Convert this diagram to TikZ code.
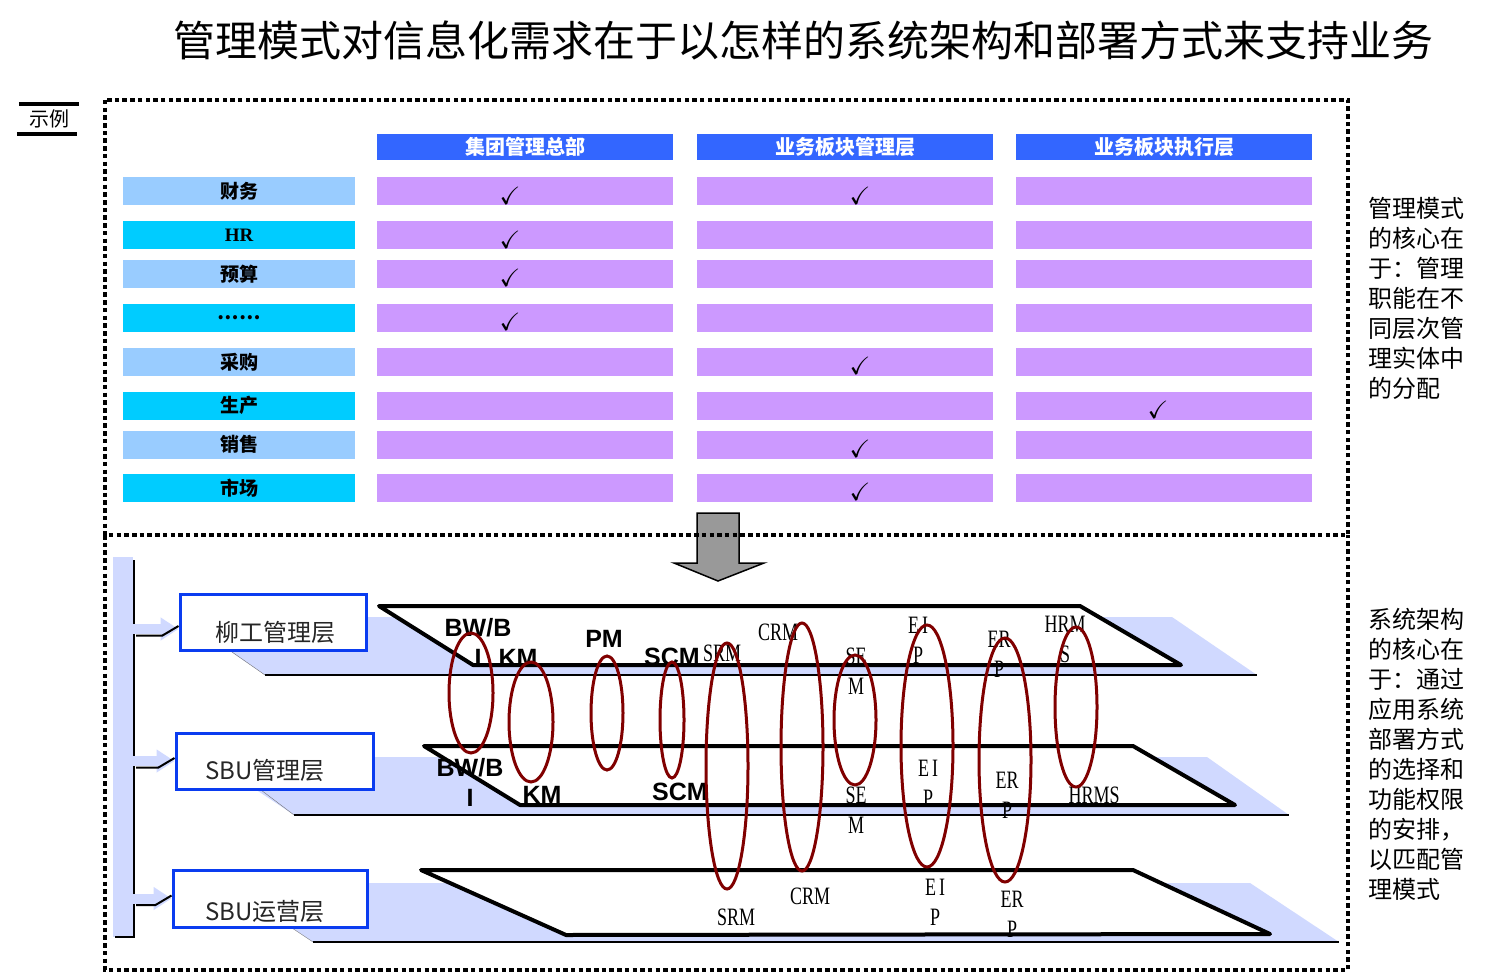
\documentclass[tikz,border=0pt]{standalone}
\usepackage{amssymb}
\usepackage{fontspec}
\setmainfont{Noto Sans CJK SC}
\newfontfamily\latinsans{Liberation Sans}
\newfontfamily\latinserif{Liberation Serif}
\newfontfamily\narrowserif[FakeStretch=0.72]{Liberation Serif}
\usetikzlibrary{calc, arrows.meta, positioning}
\definecolor{headblue}{HTML}{3366FF}
\definecolor{cellviolet}{HTML}{CC99FF}
\definecolor{rowsky}{HTML}{99CCFF}
\definecolor{rowcyan}{HTML}{00CCFF}
\definecolor{layershade}{HTML}{D0D9FF}
\definecolor{boxblue}{HTML}{0A3CF0}
\definecolor{ringred}{HTML}{800000}
\definecolor{arrowgray}{HTML}{999999}

\tikzset{
  dotframe/.style={line width=4.5pt, dash pattern=on 4.5pt off 3.2pt},
  headcell/.style={fill=headblue, text=white, minimum width=296pt, minimum height=26pt, inner sep=0pt,
    font=\fontsize{20}{22}\selectfont\bfseries},
  rowcell/.style={minimum width=232pt, minimum height=28pt, inner sep=0pt, font=\fontsize{19}{21}\selectfont\bfseries},
  gridcell/.style={fill=cellviolet, minimum width=296pt, minimum height=28pt, inner sep=0pt},
  checkmk/.style={inner sep=0pt, font=\fontsize{25}{25}\selectfont},
  layerbox/.style={draw=boxblue, line width=3pt, fill=white, inner sep=0pt},
  layertext/.style={inner sep=0pt, text=black!85, font=\fontsize{24}{26}\selectfont},
  plane/.style={draw=black, line width=4pt, fill=white, line join=round},
  layershadow/.style={fill=layershade},
  feed/.style={draw=layershade, line width=10pt, -{Triangle[length=18pt, width=22pt]}},
  feedshadow/.style={draw=black, line width=2pt},
  sysbold/.style={inner sep=0pt, align=center, font=\latinsans\bfseries\fontsize{25}{30}\selectfont},
  systhin/.style={inner sep=0pt, align=center, font=\narrowserif\fontsize{25}{30}\selectfont},
  ring/.style={draw=ringred, line width=3pt},
  note/.style={inner sep=0pt, align=left, font=\fontsize{24}{30}\selectfont},
}

\begin{document}
\begin{tikzpicture}[x=1pt, y=-1pt]
  \useasboundingbox (0,0) rectangle (1487,973);
  % title and tag
  \node[font=\fontsize{42}{46}\selectfont] (title) at (803,40) {管理模式对信息化需求在于以怎样的系统架构和部署方式来支持业务};
  \node[inner sep=0pt, minimum width=60pt, minimum height=29pt, font=\fontsize{20}{22}\selectfont] (sample) at (49,119) {示例};
  \draw[line width=4pt] (sample.north west) -- (sample.north east);
  \draw[line width=4pt] ([xshift=-2pt]sample.south west) -- ([xshift=-2pt]sample.south east);

  % table headers
  \node[headcell] (hq) at (525,147) {集团管理总部};
  \node[headcell] (seg) at (845,147) {业务板块管理层};
  \node[headcell] (exe) at (1164,147) {业务板块执行层};

  % table rows
  \foreach \yc/\lab/\col [count=\i] in {191.5/财务/rowsky, 235.5/{\latinserif\bfseries HR}/rowcyan,
      274/预算/rowsky, 318/{\raisebox{-4pt}{……}}/rowcyan, 362/采购/rowsky, 405.5/生产/rowcyan,
      444.5/销售/rowsky, 488/市场/rowcyan} {
    \node[rowcell, fill=\col] (r\i) at (239,\yc) {\lab};
    \node[gridcell] (c\i a) at (525,\yc) {};
    \node[gridcell] (c\i b) at (845,\yc) {};
    \node[gridcell] (c\i c) at (1164,\yc) {};
  }
  \foreach \cx/\cy [count=\k] in {510/196, 510/240, 510/278, 510/322, 860/196,
      860/366, 860/449, 860/492, 1158/410}
    \node[checkmk] (ck\k) at (\cx,\cy) {$\checkmark$};

  % arrow between the two parts
  \draw[fill=arrowgray, line width=1.5pt] (697,513) -- (739,513) -- (739,563) -- (764,563)
      -- (718,581) -- (674,563) -- (697,563) -- cycle;

  % frames
  \draw[dotframe] (105,100) rectangle (1348,535);
  \draw[dotframe] (105,535) -- (105,970) -- (1348,970) -- (1348,535);

  % layer 1
  \fill[layershadow] (180,617) -- (1172,617) -- (1257,675) -- (265,675) -- cycle;
  \draw[black!55] (232,652) -- (265,675);
  \draw[line width=2pt] (265,675) -- (1257,675);
  \draw[plane] (379,606) -- (1080,606) -- (1181,665) -- (473,665) -- cycle;
  % layer 2
  \fill[layershadow] (207,757) -- (1207,757) -- (1289,815) -- (294,815) -- cycle;
  \draw[black!55] (261,790) -- (294,815);
  \draw[line width=2pt] (294,815) -- (1289,815);
  \draw[plane] (424,746) -- (1133,746) -- (1235,805) -- (520,805) -- cycle;
  % layer 3
  \fill[layershadow] (225,883) -- (1250,883) -- (1339,942) -- (313,942) -- cycle;
  \draw[black!55] (292,928) -- (313,942);
  \draw[line width=2pt] (313,942) -- (1339,942);
  \draw[plane] (421,870) -- (1133,870) -- (1270,934) -- (566,935) -- cycle;

  % left spine and level boxes
  \node[layershadow, inner sep=0pt, minimum width=20pt, minimum height=380pt] (spine) at (123,747) {};
  \draw[line width=2pt] (134,560) -- (134,937) -- (115,937);
  \node[layerbox, minimum width=186pt, minimum height=56pt] (mgmt) at (273,622) {};
  \node[layertext] (mgmtlab) at (275,632) {柳工管理层};
  \node[layerbox, minimum width=197pt, minimum height=56pt] (sbumgmt) at (274.5,761) {};
  \node[layertext] (sbumgmtlab) at (265,770) {SBU管理层};
  \node[layerbox, minimum width=194pt, minimum height=57pt] (sbuops) at (270,898.5) {};
  \node[layertext] (sbuopslab) at (265,911) {SBU运营层};
  \foreach \bx/\dy in {mgmt/7, sbumgmt/0, sbuops/0} {
    \coordinate (tip) at ($(\bx.west)+(0,\dy)$);
    \draw[feed] (spine.east |- tip) -- (tip);
    \draw[feedshadow] ($(spine.east |- tip)+(3,6.5)$) -- ($(tip)+(-16,6.5)$) -- ($(tip)+(0,-3)$);
  }

  % system labels
  \foreach \lx/\ly/\txt [count=\k] in {478/642/{BW/B\\I}, 518/658/KM, 604/639/PM, 672/657/SCM,
      470/782/{BW/B\\I}, 542/795/KM, 680/792/SCM}
    \node[sysbold] (sb\k) at (\lx,\ly) {\txt};
  \foreach \lx/\ly/\txt [count=\k] in {722/653/SRM, 778/632/CRM, 856/671/{SE\\M}, 918/640/{E\kern3pt I\\P},
      999/654/{ER\\P}, 1065/639/{HRM\\S}, 856/810/{SE\\M}, 928/783/{E\kern3pt I\\P}, 1007/795/{ER\\P},
      1094/795/HRMS, 736/917/SRM, 810/896/CRM, 935/902/{E\kern3pt I\\P}, 1012/914/{ER\\P}}
    \node[systhin] (st\k) at (\lx,\ly) {\txt};

  % deployment rings
  \foreach \ex/\ey/\rx/\ry in {471/693/22/60, 531/722/22/60, 607/713/16/57, 672/720/12/58,
      727/766/21/123, 802/747/21/124, 855/720/21/65, 927/746/26/121, 1005/760/26/122, 1076/707/21/80}
    \draw[ring] (\ex,\ey) ellipse [x radius=\rx, y radius=\ry];

  % side notes
  \node[note] (modenote) at (1416,298) {管理模式\\的核心在\\于：管理\\职能在不\\同层次管\\理实体中\\的分配};
  \node[note] (archnote) at (1416,754) {系统架构\\的核心在\\于：通过\\应用系统\\部署方式\\的选择和\\功能权限\\的安排，\\以匹配管\\理模式};
\end{tikzpicture}
\end{document}
